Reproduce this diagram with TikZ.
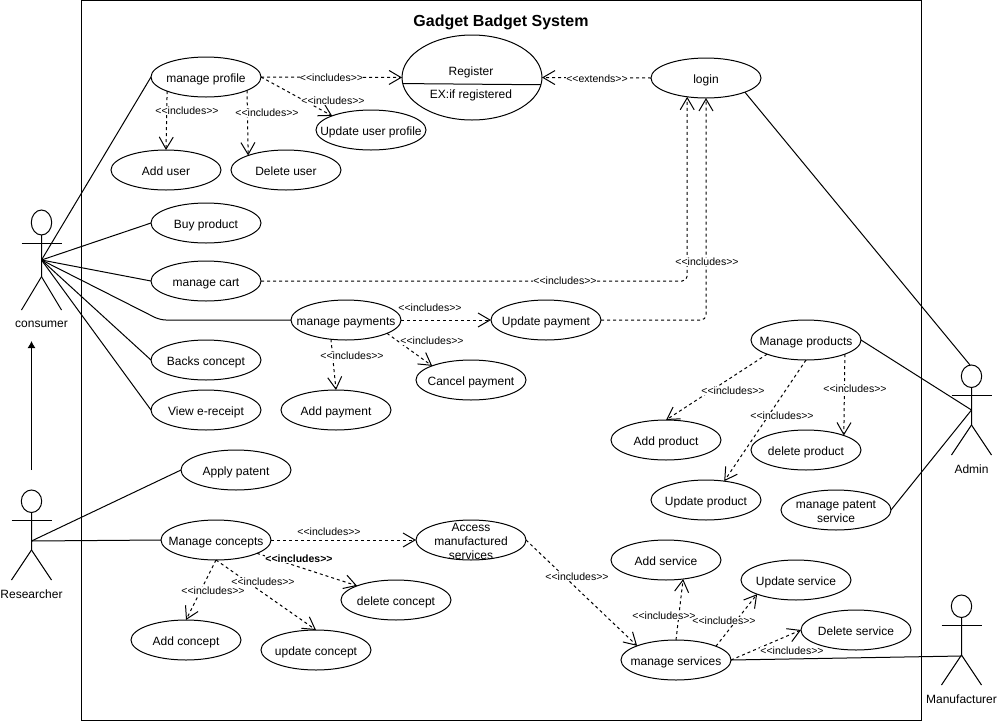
\documentclass[tikz,border=0pt]{standalone}
\usepackage{fontspec}
\setmainfont{Liberation Sans}
\usetikzlibrary{arrows.meta,shapes.geometric}
\newcommand{\ut}[1]{\makebox[0pt]{\raisebox{-5.3pt}[0pt][0pt]{\begin{tabular}{@{}c@{}}#1\end{tabular}}}}
\newcommand{\inc}{<{}<includes>{}>}
\newcommand{\ActorFig}[5]{% name, x, top, height, label y
  \draw[actorline] (#2,#3+#4/8) ellipse [x radius=10.2, y radius=#4/8];
  \draw[actorline] (#2,#3+#4/4) -- (#2,#3+#4*2/3) -- (#2-20,#3+#4);
  \draw[actorline] (#2,#3+#4*2/3) -- (#2+20,#3+#4);
  \draw[actorline] (#2-20,#3+#4/3) -- (#2+20,#3+#4/3);
  \node[actorlabel] (#1) at (#2,#5) {#1};
}
\tikzset{
  uc/.style={draw, ellipse, line width=1pt, fill=white, inner sep=0pt, outer sep=0pt,
    minimum width=110pt, minimum height=40pt, font=\fontsize{12}{14}\selectfont},
  actorline/.style={line width=1pt},
  actorlabel/.style={inner sep=0pt, font=\fontsize{12}{14}\selectfont},
  assoc/.style={draw, line width=1pt},
  dep/.style={draw, line width=1pt, dash pattern=on 3pt off 3pt,
    -{Straight Barb[length=12pt,width=14pt,line width=1pt]}},
  lbl/.style={fill=white, inner sep=0.4pt, font=\fontsize{10.5}{12}\selectfont},
  plain/.style={inner sep=0pt, font=\fontsize{12}{14}\selectfont},
}
\begin{document}
\begin{tikzpicture}[x=1pt,y=-1pt]
\useasboundingbox (0,0) rectangle (997,721);
\draw[line width=1pt] (81.5,0.5) rectangle (921.5,720.5);
\node[inner sep=0pt, font=\fontsize{16}{18}\selectfont\bfseries] (title) at (501,22) {Gadget Badget System};

% actors
\ActorFig{consumer}{41.5}{210}{100}{324}
\ActorFig{Researcher}{31.5}{490}{90}{594}
\ActorFig{Admin}{971.5}{365}{90}{469}
\ActorFig{Manufacturer}{961.5}{595}{90}{699}
\coordinate (consumerC) at (41.5,260);
\coordinate (researcherC) at (31.5,541);
\coordinate (adminC) at (971.5,410);
\coordinate (adminHead) at (970,365);
\coordinate (manufacturerC) at (961.5,656);
\coordinate (genFrom) at (31.5,470);
\coordinate (genTo) at (31.5,341);
\coordinate (payBend) at (160,320);

% use cases
\node[uc] (mprof) at (206,77) {\ut{manage profile}};
\node[uc] (adduser) at (166,170) {\ut{Add user}};
\node[uc] (deluser) at (286,170) {\ut{Delete user}};
\node[uc] (upduser) at (371,130) {\ut{Update user profile}};
\node[uc, minimum width=140pt, minimum height=85pt] (reg) at (472,77.5) {};
\node[plain] (regtop) at (471,72) {Register};
\node[plain] (regbot) at (471,95.5) {EX:if registered};
\node[uc] (login) at (706,78) {\ut{login}};
\node[uc] (buy) at (206,223) {\ut{Buy product}};
\node[uc] (cart) at (206,281) {\ut{manage cart}};
\node[uc] (mpay) at (346,320) {\ut{manage payments}};
\node[uc] (updpay) at (546,320) {\ut{Update payment}};
\node[uc] (addpay) at (336,410) {\ut{Add payment}};
\node[uc] (canpay) at (471,380) {\ut{Cancel payment}};
\node[uc] (backs) at (206,360) {\ut{Backs concept}};
\node[uc] (view) at (206,410) {\ut{View e-receipt}};
\node[uc] (apply) at (236,470) {\ut{Apply patent}};
\node[uc] (mcon) at (216,540) {\ut{Manage concepts}};
\node[uc] (access) at (471,540) {\ut{Access\\manufactured\\services}};
\node[uc] (delcon) at (396,600) {\ut{delete concept}};
\node[uc] (addcon) at (186,640) {\ut{Add concept}};
\node[uc] (updcon) at (316,650) {\ut{update concept}};
\node[uc] (addsrv) at (666,560) {\ut{Add service}};
\node[uc] (updsrv) at (796,580) {\ut{Update service}};
\node[uc] (delsrv) at (856,630) {\ut{Delete service}};
\node[uc] (msrv) at (676,660) {\ut{manage services}};
\node[uc] (mprod) at (806,340) {\ut{Manage products}};
\node[uc] (addprod) at (666,440) {\ut{Add product}};
\node[uc] (delprod) at (806,450) {\ut{delete product}};
\node[uc] (updprod) at (706,500) {\ut{Update product}};
\node[uc] (patent) at (836,510) {\ut{manage patent\\service}};

\draw[line width=1pt] (reg.185.4) -- (reg.354.6);

% associations
\draw[assoc] (consumerC) -- (mprof.west);
\draw[assoc] (consumerC) -- (buy.west);
\draw[assoc] (consumerC) -- (cart.west);
\draw[assoc, rounded corners=6pt] (consumerC) -- (payBend) -- (mpay.west);
\draw[assoc] (consumerC) -- (backs.west);
\draw[assoc] (consumerC) -- (view.west);
\draw[assoc] (researcherC) -- (apply.west);
\draw[assoc] (researcherC) -- (mcon.west);
\draw[assoc] (login.340) -- (adminHead);
\draw[assoc] (mprod.east) -- (adminC);
\draw[assoc] (patent.east) -- (adminC);
\draw[assoc] (msrv.east) -- (manufacturerC);
\draw[line width=1pt, -{Latex[length=7pt,width=8pt]}] (genFrom) -- (genTo);

% dependencies
\draw[dep] (mprof.east) -- (reg.west);
\draw[dep] (mprof.east) -- (upduser.160);
\draw[dep] (mprof.200) -- (adduser.north);
\draw[dep] (mprof.342) -- (deluser.159);
\draw[dep] (login.west) -- (reg.east);
\draw[dep, rounded corners=5pt] (cart.east) -| (login.225);
\draw[dep, rounded corners=5pt] (updpay.east) -| (login.south);
\draw[dep] (mpay.east) -- (updpay.west);
\draw[dep] (mpay.232) -- (addpay.north);
\draw[dep] (mpay.342) -- (canpay.160);
\draw[dep] (mprod.200) -- (addprod.north);
\draw[dep] (mprod.340) -- (delprod.21);
\draw[dep] (mprod.south) -- (updprod.46);
\draw[dep] (mcon.east) -- (access.west);
\draw[dep] (mcon.342) -- (delcon.160);
\draw[dep] (mcon.south) -- (addcon.north);
\draw[dep] (mcon.south) -- (updcon.north);
\draw[dep] (access.east) -- (msrv.160);
\draw[dep] (msrv.north) -- (addsrv.312);
\draw[dep] (msrv.19) -- (updsrv.200);
\draw[dep] (msrv.east) -- (delsrv.west);

% labels
\node[lbl] (l01) at (331.5,78) {\inc};
\node[lbl] (l02) at (333,101) {\inc};
\node[lbl] (l03) at (187,111) {\inc};
\node[lbl] (l04) at (267,113) {\inc};
\node[lbl] (l05) at (597,79) {<{}<extends>{}>};
\node[lbl] (l06) at (565,281) {\inc};
\node[lbl] (l07) at (707,262) {\inc};
\node[lbl] (l08) at (430,308) {\inc};
\node[lbl] (l09) at (352,356) {\inc};
\node[lbl] (l10) at (432,341) {\inc};
\node[lbl] (l11) at (733,391) {\inc};
\node[lbl] (l12) at (855,389) {\inc};
\node[lbl] (l13) at (782,416) {\inc};
\node[lbl] (l14) at (329,532) {\inc};
\node[lbl, font=\fontsize{10.5}{12}\selectfont\bfseries] (l15) at (299,559) {\inc};
\node[lbl] (l16) at (263,582) {\inc};
\node[lbl] (l17) at (213,591) {\inc};
\node[lbl] (l18) at (577,577) {\inc};
\node[lbl] (l19) at (664,616) {\inc};
\node[lbl] (l20) at (724,621) {\inc};
\node[lbl] (l21) at (792,651) {\inc};
\end{tikzpicture}
\end{document}
